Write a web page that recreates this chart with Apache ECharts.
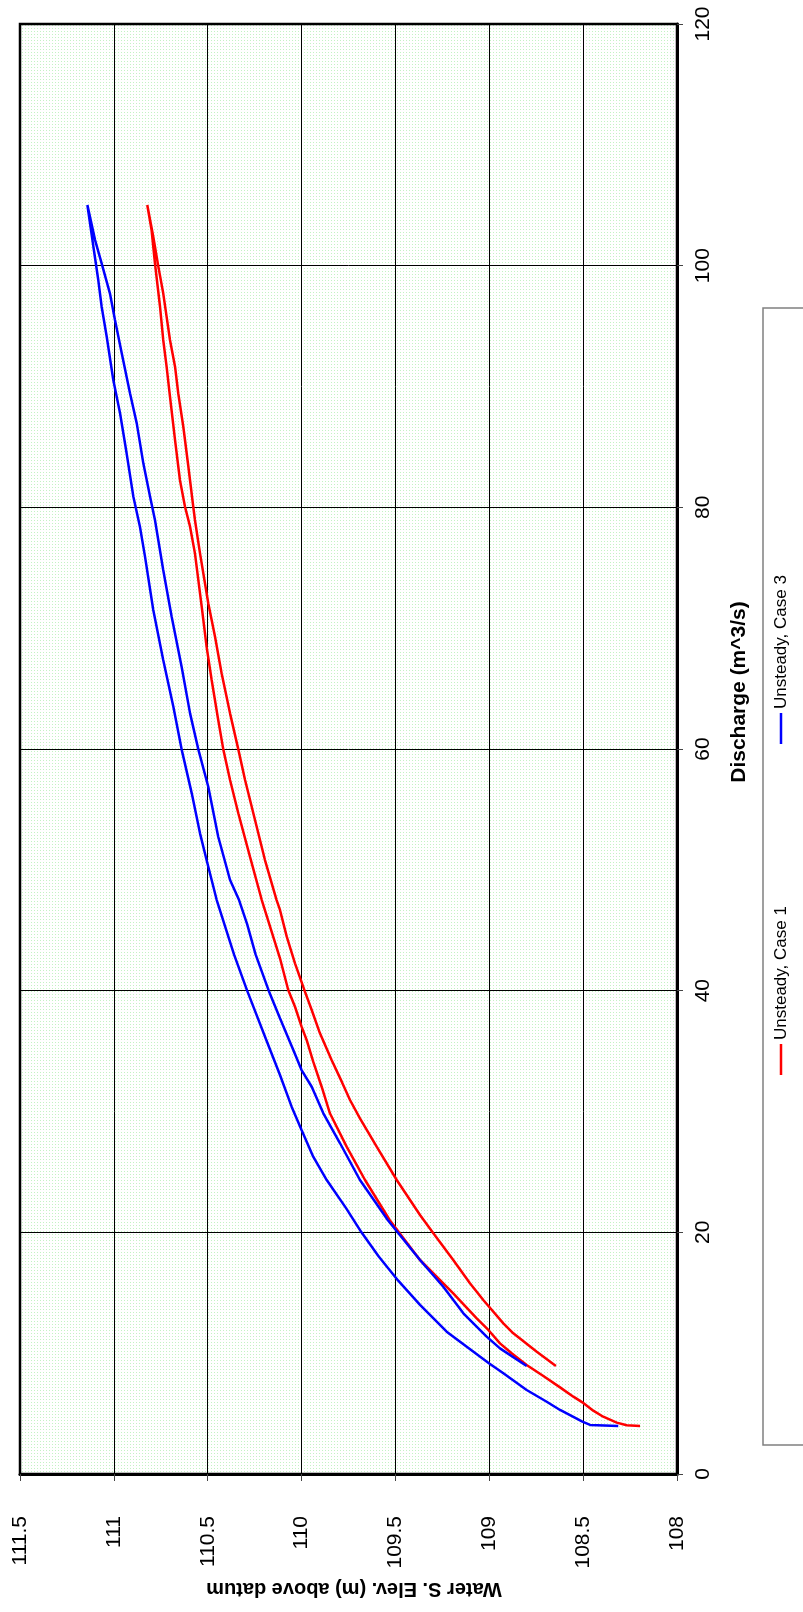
<!DOCTYPE html>
<html>
<head>
<meta charset="utf-8">
<script src="https://cdn.jsdelivr.net/npm/echarts@6/dist/echarts.min.js"></script>
<style>
  html, body { margin: 0; padding: 0; background: #ffffff; }
  #chart { width: 803px; height: 1612px; }
</style>
</head>
<body>
<div id="chart"></div>
<script>
// Stage–discharge loops, drawn on a page turned on its side:
// discharge runs up the right edge, water surface elevation runs along the bottom.

const seriesNames = ['Unsteady, Case 1', 'Unsteady, Case 3'];
const seriesColors = ['#ff0000', '#0000ff'];

// Case 1, rising limb (discharge m^3/s, elevation m)
const case1RiseQ = [8.94, 10.12, 11.64, 12.47, 14.40, 15.78, 17.71, 19.92, 21.43, 24.33, 27.09, 29.43, 30.95, 32.47, 34.26, 36.47, 38.40, 39.92, 42.26, 44.47, 46.68, 47.50, 50.81, 54.12, 57.43, 59.97, 62.95, 66.27, 69.29, 72.06, 76.19, 78.95, 80.05, 83.36, 86.67, 89.44, 91.64, 93.85, 95.78, 97.71, 99.92, 102.40, 105.02];
const case1RiseE = [108.645, 108.747, 108.872, 108.925, 109.032, 109.103, 109.192, 109.298, 109.369, 109.493, 109.600, 109.689, 109.742, 109.786, 109.840, 109.902, 109.946, 109.982, 110.035, 110.079, 110.115, 110.133, 110.195, 110.248, 110.301, 110.337, 110.381, 110.426, 110.461, 110.497, 110.541, 110.568, 110.577, 110.603, 110.630, 110.657, 110.674, 110.701, 110.719, 110.737, 110.763, 110.790, 110.822];

// Case 1, falling limb
const case1FallQ = [105.02, 102.95, 100.19, 96.60, 93.85, 91.64, 89.16, 85.57, 82.26, 80.05, 78.40, 76.19, 71.78, 68.47, 65.71, 62.40, 59.97, 57.43, 54.68, 51.09, 47.50, 42.68, 40.06, 38.67, 37.02, 35.92, 34.12, 32.05, 29.85, 27.09, 24.33, 21.00, 17.71, 14.95, 12.88, 11.92, 10.81, 9.99, 9.02, 8.11, 7.17, 6.40, 5.93, 5.24, 4.74, 4.25, 4.03, 3.97];
const case1FallE = [110.822, 110.799, 110.781, 110.754, 110.737, 110.719, 110.701, 110.674, 110.648, 110.621, 110.594, 110.568, 110.532, 110.506, 110.479, 110.444, 110.417, 110.381, 110.337, 110.275, 110.212, 110.115, 110.071, 110.035, 110.000, 109.973, 109.938, 109.893, 109.849, 109.760, 109.662, 109.530, 109.369, 109.192, 109.067, 109.005, 108.943, 108.881, 108.801, 108.712, 108.623, 108.552, 108.504, 108.446, 108.393, 108.321, 108.268, 108.197];

// Case 3, rising limb
const case3RiseQ = [8.94, 10.40, 11.37, 13.30, 15.50, 17.71, 21.00, 24.33, 27.37, 29.85, 32.05, 33.43, 35.09, 37.71, 40.00, 43.00, 45.50, 47.50, 49.16, 52.74, 56.88, 59.97, 62.95, 66.81, 70.95, 74.81, 78.95, 80.88, 83.64, 86.95, 89.44, 92.75, 95.50, 97.71, 100.19, 102.12, 105.02];
const case3RiseE = [108.801, 108.943, 109.014, 109.138, 109.245, 109.369, 109.540, 109.689, 109.795, 109.884, 109.946, 110.000, 110.044, 110.115, 110.175, 110.245, 110.290, 110.333, 110.381, 110.444, 110.497, 110.550, 110.594, 110.639, 110.692, 110.737, 110.781, 110.807, 110.843, 110.878, 110.914, 110.958, 110.994, 111.021, 111.065, 111.100, 111.141];

// Case 3, falling limb
const case3FallQ = [105.02, 101.57, 98.81, 96.60, 94.12, 90.54, 87.78, 84.47, 80.88, 78.40, 75.92, 71.50, 67.37, 63.50, 59.97, 56.33, 53.02, 50.81, 47.50, 43.00, 40.00, 36.00, 33.02, 30.40, 28.47, 26.26, 24.33, 22.00, 20.00, 18.00, 16.00, 13.99, 11.78, 10.54, 9.16, 8.33, 6.95, 5.98, 5.30, 4.33, 4.06, 3.97];
const case3FallE = [111.141, 111.109, 111.083, 111.065, 111.038, 111.003, 110.967, 110.932, 110.896, 110.861, 110.834, 110.790, 110.737, 110.683, 110.639, 110.585, 110.541, 110.506, 110.452, 110.360, 110.290, 110.190, 110.115, 110.053, 110.000, 109.938, 109.866, 109.763, 109.681, 109.589, 109.485, 109.369, 109.227, 109.120, 109.002, 108.925, 108.801, 108.694, 108.623, 108.504, 108.463, 108.313];

// Axis ranges
const elevMin = 108, elevMax = 111.5, elevStep = 0.5;
const qMin = 0, qMax = 120, qStep = 20;

const elevTitle = 'Water S. Elev. (m) above datum';
const qTitle = 'Discharge (m^3/s)';

const FONT = '"Liberation Sans", Arial, sans-serif';

function pairs(q, e) { return q.map((v, i) => [e[i], v]); }

// Fine dotted fill for the plot area
function dotPattern() {
  const c = document.createElement('canvas');
  c.width = 3; c.height = 3;
  const g = c.getContext('2d');
  g.fillStyle = '#ffffff';
  g.fillRect(0, 0, 3, 3);
  g.fillStyle = '#c4f2c4';
  g.fillRect(1, 1, 1, 1);
  return { image: c, repeat: 'repeat' };
}

const chart = echarts.init(document.getElementById('chart'), null, { renderer: 'canvas' });

const R = Math.PI / 2;

chart.setOption({
  animation: false,
  backgroundColor: '#ffffff',
  grid: {
    left: 20, top: 24, width: 657, height: 1450,
    show: true,
    backgroundColor: dotPattern(),
    borderColor: '#000000',
    borderWidth: 2.5
  },
  xAxis: {
    type: 'value',
    min: elevMin, max: elevMax, interval: elevStep,
    inverse: true,
    position: 'bottom',
    axisLine: { show: true, onZero: false, lineStyle: { color: '#000', width: 3 } },
    axisTick: { show: true, inside: false, length: 7, lineStyle: { color: '#444', width: 1 } },
    axisLabel: { rotate: 90, margin: 42, fontSize: 21, color: '#000', fontFamily: FONT },
    splitLine: { show: true, lineStyle: { color: '#000', width: 1 } }
  },
  yAxis: {
    type: 'value',
    min: qMin, max: qMax, interval: qStep,
    position: 'right',
    axisLine: { show: true, onZero: false, lineStyle: { color: '#000', width: 3 } },
    axisTick: { show: true, inside: false, length: 6, lineStyle: { color: '#444', width: 1 } },
    axisLabel: { rotate: 90, margin: 16, fontSize: 21, color: '#000', fontFamily: FONT },
    splitLine: { show: true, lineStyle: { color: '#000', width: 1 } }
  },
  series: [
    {
      name: seriesNames[0],
      type: 'line',
      showSymbol: false,
      lineStyle: { color: seriesColors[0], width: 2.5 },
      itemStyle: { color: seriesColors[0] },
      data: pairs(case1RiseQ, case1RiseE).concat(pairs(case1FallQ, case1FallE))
    },
    {
      name: seriesNames[1],
      type: 'line',
      showSymbol: false,
      lineStyle: { color: seriesColors[1], width: 2.5 },
      itemStyle: { color: seriesColors[1] },
      data: pairs(case3RiseQ, case3RiseE).concat(pairs(case3FallQ, case3FallE))
    }
  ],
  graphic: [
    // axis titles
    {
      type: 'text', x: 354, y: 1589, rotation: Math.PI,
      style: { text: elevTitle, font: 'bold 20px ' + FONT, fill: '#000', align: 'center', verticalAlign: 'middle' }
    },
    {
      type: 'text', x: 739, y: 692, rotation: R,
      style: { text: qTitle, font: 'bold 21px ' + FONT, fill: '#000', align: 'center', verticalAlign: 'middle' }
    },
    // legend box
    {
      type: 'rect', shape: { x: 763, y: 308, width: 60, height: 1137 },
      style: { fill: '#ffffff', stroke: '#808080', lineWidth: 1.5 }
    },
    {
      type: 'line', shape: { x1: 781, y1: 1075, x2: 781, y2: 1044 },
      style: { stroke: seriesColors[0], lineWidth: 2.5 }
    },
    {
      type: 'text', x: 781, y: 1040, rotation: R,
      style: { text: seriesNames[0], font: '17px ' + FONT, fill: '#000', align: 'left', verticalAlign: 'middle' }
    },
    {
      type: 'line', shape: { x1: 781, y1: 744, x2: 781, y2: 713 },
      style: { stroke: seriesColors[1], lineWidth: 2.5 }
    },
    {
      type: 'text', x: 781, y: 709, rotation: R,
      style: { text: seriesNames[1], font: '17px ' + FONT, fill: '#000', align: 'left', verticalAlign: 'middle' }
    }
  ]
});
</script>
</body>
</html>
